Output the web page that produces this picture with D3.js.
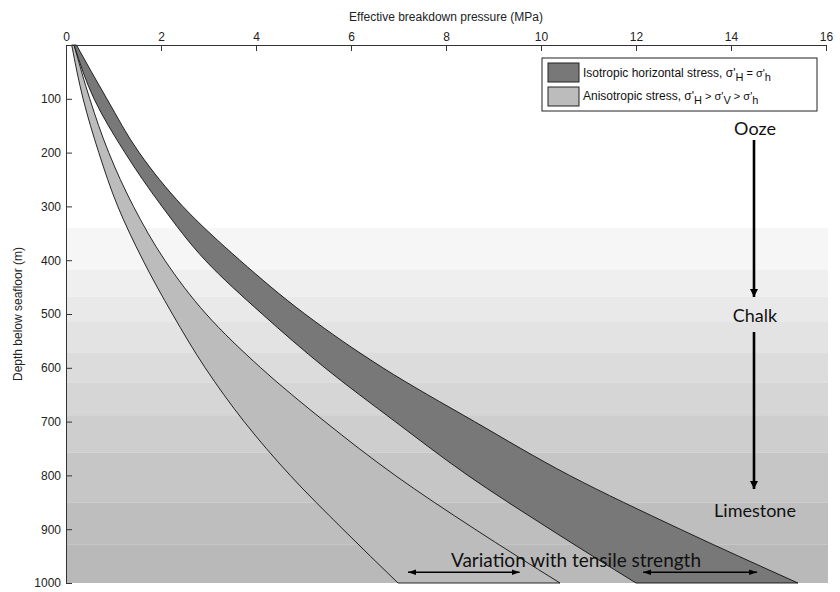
<!DOCTYPE html>
<html><head><meta charset="utf-8">
<script src="https://cdn.jsdelivr.net/npm/d3@7"></script>
<style>
html,body{margin:0;padding:0;background:#fff;}
svg{display:block;}
</style></head>
<body><svg id="c" width="840" height="592"></svg>
<script>
// ---- data ----
const depths     = [0, 100, 200, 300, 400, 500, 600, 700, 800, 900, 1000];
const anisoLow   = [0.12, 0.36, 0.69, 1.09, 1.62, 2.24, 2.93, 3.75, 4.72, 5.83, 6.99];
const anisoHigh  = [0.17, 0.50, 0.90, 1.42, 2.08, 2.95, 4.10, 5.45, 6.93, 8.61, 10.40];
const isoLow     = [0.17, 0.59, 1.24, 2.02, 2.93, 4.13, 5.45, 6.93, 8.46, 10.19, 12.00];
const isoHigh    = [0.22, 0.86, 1.54, 2.46, 3.66, 5.03, 6.67, 8.60, 10.60, 12.93, 15.41];
const xTicks     = [0, 2, 4, 6, 8, 10, 12, 14, 16];
const yTicks     = [100, 200, 300, 400, 500, 600, 700, 800, 900, 1000];
const bandTop    = [340, 418, 468, 515, 571, 628, 688, 758, 851, 929];
const bandBottom = [418, 468, 515, 571, 628, 688, 758, 851, 929, 1000];
const bandGray   = ["#f6f6f6", "#efefef", "#e9e9e9", "#e3e3e3", "#dcdcdc", "#d6d6d6", "#cecece", "#c6c6c6", "#bebebe", "#b9b9b9"];
const lithology  = ["Ooze", "Chalk", "Limestone"];
const lithDepth  = [168, 514, 878];
const rangeArrows = [[7.2, 9.55], [12.15, 14.55]];
const rangeDepth = 980;

const svg = d3.select("#c");
const x = d3.scaleLinear().domain([0, 16]).range([66, 826]);
const y = d3.scaleLinear().domain([0, 1000]).range([45, 583]);

// background bands
svg.append("g").selectAll("rect").data(bandTop).join("rect")
  .attr("x", x(0)).attr("width", x(16) - x(0) + 2)
  .attr("y", d => y(d)).attr("height", (d, i) => y(bandBottom[i]) - y(d))
  .attr("fill", (d, i) => bandGray[i]);

// bands
function band(lo, hi) {
  const left = depths.map((d, i) => [lo[i], d]);
  const right = depths.map((d, i) => [hi[i], d]).reverse();
  const line = d3.line().x(p => x(p[0])).y(p => y(p[1])).curve(d3.curveMonotoneY);
  return line(left) + "L" + line(right).slice(1) + "Z";
}
svg.append("path").attr("d", band(anisoLow, anisoHigh))
  .attr("fill", "#bcbcbc").attr("stroke", "#111").attr("stroke-width", 0.9);
svg.append("path").attr("d", band(isoLow, isoHigh))
  .attr("fill", "#787878").attr("stroke", "#111").attr("stroke-width", 0.9);

// axes
const axFont = "'Liberation Sans', Arial, sans-serif";
const gx = svg.append("g").attr("transform", `translate(0,${y(0)})`)
  .call(d3.axisTop(x).tickValues(xTicks).tickSizeInner(-6).tickSizeOuter(0).tickPadding(4));
const gy = svg.append("g").attr("transform", `translate(${x(0)},0)`)
  .call(d3.axisLeft(y).tickValues(yTicks).tickFormat(d3.format("d")).tickSizeInner(-6).tickSizeOuter(0).tickPadding(5));
[gx, gy].forEach(g => {
  g.selectAll("path,line").attr("stroke", "#333");
  g.selectAll("text").attr("font-family", axFont).attr("font-size", 12).attr("fill", "#222");
});

svg.append("text").attr("x", 446).attr("y", 21).attr("text-anchor", "middle")
  .attr("font-family", axFont).attr("font-size", 12).attr("fill", "#222")
  .text("Effective breakdown pressure (MPa)");
svg.append("text").attr("transform", "translate(22,314) rotate(-90)").attr("text-anchor", "middle")
  .attr("font-family", axFont).attr("font-size", 12).attr("fill", "#222")
  .text("Depth below seafloor (m)");

// legend
const lg = svg.append("g");
lg.append("rect").attr("x", 542).attr("y", 58).attr("width", 275).attr("height", 53)
  .attr("fill", "#fff").attr("stroke", "#222").attr("stroke-width", 1);
lg.append("rect").attr("x", 548).attr("y", 63).attr("width", 31).attr("height", 19)
  .attr("fill", "#787878").attr("stroke", "#222");
lg.append("rect").attr("x", 548).attr("y", 87).attr("width", 31).attr("height", 19)
  .attr("fill", "#bcbcbc").attr("stroke", "#222");
function legendText(yy, parts) {
  const t = lg.append("text").attr("x", 583).attr("y", yy)
    .attr("font-family", axFont).attr("font-size", 12).attr("fill", "#111");
  parts.forEach(p => {
    const s = t.append("tspan").text(p[0]);
    if (p[1]) s.attr("dy", p[1]).attr("font-size", 11);
  });
}
legendText(77, [["Isotropic horizontal stress, σ'"], ["H", 4], [" = σ'", -4], ["h", 4]]);
legendText(100, [["Anisotropic stress, σ'"], ["H", 4], [" > σ'", -4], ["V", 4], [" > σ'", -4], ["h", 4]]);

// lithology annotations
const annFont = "Lato, 'Open Sans', sans-serif";
const defs = svg.append("defs");
defs.append("marker").attr("id", "ah").attr("viewBox", "0 0 10 10").attr("refX", 10).attr("refY", 5)
  .attr("markerWidth", 3.2).attr("markerHeight", 3.2).attr("orient", "auto-start-reverse")
  .append("path").attr("d", "M0,0L10,5L0,10Z").attr("fill", "#000");
defs.append("marker").attr("id", "ah2").attr("viewBox", "0 0 10 10").attr("refX", 10).attr("refY", 5)
  .attr("markerWidth", 5).attr("markerHeight", 5).attr("orient", "auto-start-reverse")
  .append("path").attr("d", "M0,1.5L10,5L0,8.5Z").attr("fill", "#000");

svg.append("g").selectAll("text").data(lithology).join("text")
  .attr("x", 755).attr("y", (d, i) => y(lithDepth[i]))
  .attr("text-anchor", "middle").attr("font-family", annFont).attr("font-size", 18).attr("fill", "#111")
  .text(d => d);
svg.append("line").attr("x1", 754).attr("x2", 754).attr("y1", 140).attr("y2", 297)
  .attr("stroke", "#000").attr("stroke-width", 2.6).attr("marker-end", "url(#ah)");
svg.append("line").attr("x1", 754).attr("x2", 754).attr("y1", 332).attr("y2", 489)
  .attr("stroke", "#000").attr("stroke-width", 2.6).attr("marker-end", "url(#ah)");

svg.append("text").attr("x", 576).attr("y", 567).attr("text-anchor", "middle")
  .attr("font-family", annFont).attr("font-size", 19).attr("fill", "#111")
  .text("Variation with tensile strength");
svg.append("g").selectAll("line").data(rangeArrows).join("line")
  .attr("x1", d => x(d[0])).attr("x2", d => x(d[1]))
  .attr("y1", y(rangeDepth)).attr("y2", y(rangeDepth))
  .attr("stroke", "#000").attr("stroke-width", 1.6)
  .attr("marker-start", "url(#ah2)").attr("marker-end", "url(#ah2)");
</script></body></html>
